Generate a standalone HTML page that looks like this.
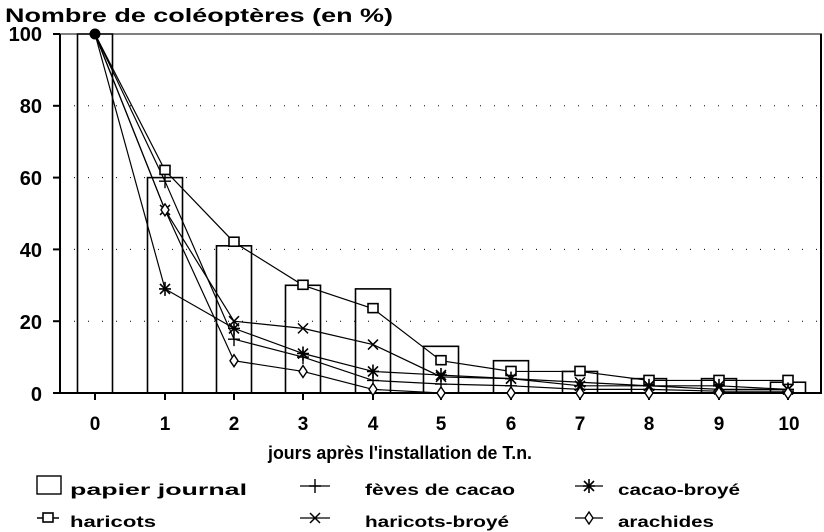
<!DOCTYPE html>
<html><head><meta charset="utf-8"><style>
html,body{margin:0;padding:0;background:#fff;}
svg{display:block;font-family:"Liberation Sans",Arial,sans-serif;font-weight:bold;}
</style></head><body>
<svg id="s" width="824" height="532" viewBox="0 0 824 532" xmlns="http://www.w3.org/2000/svg">
<g fill="#000" font-size="19">
<text x="5" y="22" font-size="19" textLength="388" lengthAdjust="spacingAndGlyphs">Nombre de coléoptères (en %)</text>
<text x="42" y="41" text-anchor="end" font-size="20">100</text>
<text x="42" y="113" text-anchor="end" font-size="20">80</text>
<text x="42" y="185" text-anchor="end" font-size="20">60</text>
<text x="42" y="257" text-anchor="end" font-size="20">40</text>
<text x="42" y="329" text-anchor="end" font-size="20">20</text>
<text x="42" y="401" text-anchor="end" font-size="20">0</text>
<g text-anchor="middle">
<text x="95" y="430">0</text><text x="165" y="430">1</text><text x="234" y="430">2</text><text x="303" y="430">3</text><text x="373" y="430">4</text><text x="441" y="430">5</text><text x="511" y="430">6</text><text x="580" y="430">7</text><text x="649" y="430">8</text><text x="719" y="430">9</text><text x="789" y="430">10</text>
</g>
<text x="268" y="459" font-size="18" textLength="264" lengthAdjust="spacingAndGlyphs">jours après l'installation de T.n.</text>
<g font-size="16">
<text x="70" y="495" textLength="177" lengthAdjust="spacingAndGlyphs">papier journal</text>
<text x="365" y="495" textLength="150" lengthAdjust="spacingAndGlyphs">fèves de cacao</text>
<text x="618" y="495" textLength="122" lengthAdjust="spacingAndGlyphs">cacao-broyé</text>
<text x="70" y="527" textLength="86" lengthAdjust="spacingAndGlyphs">haricots</text>
<text x="365" y="527" textLength="144" lengthAdjust="spacingAndGlyphs">haricots-broyé</text>
<text x="618" y="527" textLength="96" lengthAdjust="spacingAndGlyphs">arachides</text>
</g>
</g>
<g id="plot" stroke="#000" fill="none"></g>
</svg>
<script>
const X=[95,165,234,303,373,441,511,580,649,719,788];
const Y=v=>393-3.59*v;
let h='';
h+='<line x1="60" y1="34" x2="60" y2="393" stroke-width="2"/>';
h+='<line x1="60" y1="393" x2="822" y2="393" stroke-width="2"/>';
h+='<line x1="60" y1="34" x2="822" y2="34" stroke-width="1"/>';
h+='<line x1="821" y1="34" x2="821" y2="393" stroke-width="2"/>';
[20,40,60,80].forEach(v=>h+=`<line x1="60" x2="820" y1="${Y(v)}" y2="${Y(v)}" stroke-width="1" stroke-dasharray="1,13"/>`);
[100,80,60,40,20,0].forEach(v=>h+=`<line x1="53" x2="60" y1="${Y(v)}" y2="${Y(v)}" stroke-width="2"/>`);
X.forEach(x=>h+=`<line x1="${x}" x2="${x}" y1="393" y2="400" stroke-width="2"/>`);
const bars=[100,60,41,30,29,13,9,6,4,4,3];
bars.forEach((v,i)=>h+=`<rect x="${X[i]-17.5}" y="${Y(v)}" width="35" height="${393-Y(v)}" stroke-width="1.6"/>`);
const S={
 sq:[100,62,42,30,23.5,9,6,6,3.5,3.5,3.5],
 plus:[100,59,15,10,3.5,2.5,2,1,1,0.5,0.5],
 star:[100,29,18,11,6,5,4,2,2,2,1],
 x:[100,51,20,18,13.5,4.5,4,3,2,1,1],
 dia:[100,51,9,6,1,0,0,0,0,0,0]
};
function mk(t,x,y){
 if(t=='sq')return `<rect x="${x-5}" y="${y-5}" width="10" height="9" stroke-width="1.6" fill="#fff"/>`;
 if(t=='plus')return `<path d="M${x-6} ${y}h12M${x} ${y-7}v14" stroke-width="1.4"/>`;
 if(t=='star')return `<path d="M${x-6} ${y}h12M${x} ${y-7}v14M${x-5} ${y-5}l10 10M${x+5} ${y-5}l-10 10" stroke-width="1.6"/>`;
 if(t=='x')return `<path d="M${x-5} ${y-5}l10 10M${x+5} ${y-5}l-10 10" stroke-width="1.5"/>`;
 if(t=='dia')return `<path d="M${x} ${y-6}l4 6l-4 6l-4 -6z" stroke-width="1.4" fill="#fff"/>`;
}
for(const k in S){
 h+=`<polyline stroke-width="1.2" points="${S[k].map((v,i)=>X[i]+','+Y(v)).join(' ')}"/>`;
}
for(const k in S){S[k].forEach((v,i)=>{if(i>0)h+=mk(k,X[i],Y(v));});}
h+=`<circle cx="95" cy="${Y(100)}" r="5" fill="#000"/>`;
h+='<rect x="37" y="476" width="24" height="18" stroke-width="1.4"/>';
h+='<line x1="37" x2="59" y1="518" y2="518" stroke-width="1.4"/>'+mk('sq',48,518);
h+='<line x1="300" x2="330" y1="486" y2="486" stroke-width="1.2"/>'+mk('plus',315,486);
h+='<line x1="300" x2="330" y1="518" y2="518" stroke-width="1.2"/>'+mk('x',315,518);
h+='<line x1="575" x2="603" y1="486" y2="486" stroke-width="1.2"/>'+mk('star',589,486);
h+='<line x1="575" x2="603" y1="518" y2="518" stroke-width="1.2"/>'+mk('dia',589,518);
document.getElementById('plot').innerHTML=h;
</script>
</body></html>
